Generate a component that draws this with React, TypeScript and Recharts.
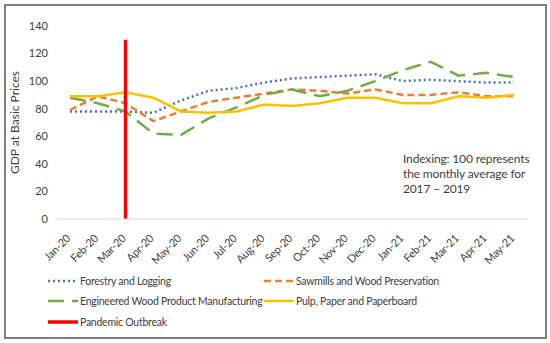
import React from "react";
import { CartesianGrid, Line, LineChart, ReferenceLine, XAxis, YAxis } from "recharts";

const months = [
  "Jan-20", "Feb-20", "Mar-20", "Apr-20", "May-20", "Jun-20", "Jul-20", "Aug-20", "Sep-20",
  "Oct-20", "Nov-20", "Dec-20", "Jan-21", "Feb-21", "Mar-21", "Apr-21", "May-21",
];
const forestry = [78, 78, 78, 77, 86, 93, 95, 99, 102, 103, 104, 105, 100, 101, 100, 99, 99];
const sawmills = [79, 89, 84, 71, 78, 85, 88, 91, 94, 93, 91, 94, 90, 90, 92, 89, 89];
const engineered = [88, 84, 78, 62, 61, 73, 81, 90, 94, 89, 93, 100, 108, 114, 104, 106, 103];
const pulp = [89, 89, 92, 88, 78, 77, 78, 83, 82, 84, 88, 88, 84, 84, 89, 88, 90];
const yTicks = [0, 20, 40, 60, 80, 100, 120, 140];
const outbreakMonth = "Mar-20";
const outbreakRange = [0, 130];

const data = months.map((m, i) => ({
  month: m,
  forestry: forestry[i],
  sawmills: sawmills[i],
  engineered: engineered[i],
  pulp: pulp[i],
}));

const FONT = "Lato, 'Open Sans', sans-serif";
const TEXT = "#404040";

const MonthTick = (props: any) => {
  const { x, y, payload } = props;
  return (
    <g transform={`translate(${x - 1},${y + 10})`}>
      <text
        transform="rotate(-45)"
        textAnchor="end"
        fontSize={11}
        letterSpacing={-0.2}
        fill={TEXT}
        fontFamily={FONT}
        dy={3}
      >
        {payload.value}
      </text>
    </g>
  );
};

const legendItems = [
  { name: "Forestry and Logging", color: "#4472C4", dash: "2 3", w: 2.5, left: 47, top: 274 },
  { name: "Sawmills and Wood Preservation", color: "#ED7D31", dash: "7 4", w: 2.5, left: 263, top: 274 },
  { name: "Engineered Wood Product Manufacturing", color: "#70AD47", dash: "16 8", w: 2.5, left: 47, top: 294 },
  { name: "Pulp, Paper and Paperboard", color: "#FFC000", dash: undefined, w: 2.5, left: 263, top: 294 },
  { name: "Pandemic Outbreak", color: "#FF0000", dash: undefined, w: 3.5, left: 47, top: 315 },
];

const App = () => {
  return (
    <div
      style={{
        position: "absolute",
        left: 0,
        top: 0,
        width: 550,
        height: 343,
        background: "#fff",
        fontFamily: FONT,
      }}
    >
      <div
        style={{
          position: "absolute",
          left: 4,
          top: 4,
          width: 539,
          height: 331,
          border: "2px solid #7f7f7f",
        }}
      />
      <LineChart width={550} height={343} data={data} margin={{ top: 26, right: 22, bottom: 0, left: 10 }}>
        <CartesianGrid vertical={false} horizontal={false} />
        <XAxis
          dataKey="month"
          height={124}
          tick={<MonthTick />}
          tickLine={false}
          axisLine={{ stroke: "#d9d9d9" }}
          interval={0}
          padding={{ left: 14, right: 14 }}
        />
        <YAxis
          domain={[0, 140]}
          ticks={yTicks}
          width={46}
          tickLine={false}
          axisLine={false}
          tick={{ fontSize: 11, fill: TEXT, fontFamily: FONT }}
          label={{
            value: "GDP at Basic Prices",
            angle: -90,
            position: "insideLeft",
            offset: 0,
            dx: 5,
            style: { textAnchor: "middle", fontSize: 12, fill: TEXT, fontFamily: FONT },
          }}
        />
        <Line type="linear" dataKey="forestry" stroke="#4472C4" strokeWidth={2.5} strokeDasharray="2 3" dot={false} isAnimationActive={false} />
        <Line type="linear" dataKey="sawmills" stroke="#ED7D31" strokeWidth={2.5} strokeDasharray="7 4" dot={false} isAnimationActive={false} />
        <Line type="linear" dataKey="engineered" stroke="#70AD47" strokeWidth={2.5} strokeDasharray="16 8" dot={false} isAnimationActive={false} />
        <Line type="linear" dataKey="pulp" stroke="#FFC000" strokeWidth={2.5} dot={false} isAnimationActive={false} />
        <ReferenceLine
          segment={[
            { x: outbreakMonth, y: outbreakRange[0] },
            { x: outbreakMonth, y: outbreakRange[1] },
          ]}
          stroke="#FF0000"
          strokeWidth={3.5}
        />
      </LineChart>
      <div
        style={{
          position: "absolute",
          left: 403,
          top: 151,
          fontSize: 12,
          letterSpacing: -0.15,
          lineHeight: "15px",
          color: TEXT,
        }}
      >
        Indexing: 100 represents
        <br />
        the monthly average for
        <br />
        2017 – 2019
      </div>
      {legendItems.map((it) => (
        <div
          key={it.name}
          style={{
            position: "absolute",
            left: it.left,
            top: it.top,
            display: "flex",
            alignItems: "center",
            fontSize: 10.5,
            letterSpacing: -0.25,
            color: TEXT,
            whiteSpace: "nowrap",
          }}
        >
          <svg width={32} height={14} style={{ marginRight: 1 }}>
            <line
              x1={1}
              y1={7}
              x2={31}
              y2={7}
              stroke={it.color}
              strokeWidth={it.w}
              strokeDasharray={it.dash}
            />
          </svg>
          {it.name}
        </div>
      ))}
    </div>
  );
};

export default App;
